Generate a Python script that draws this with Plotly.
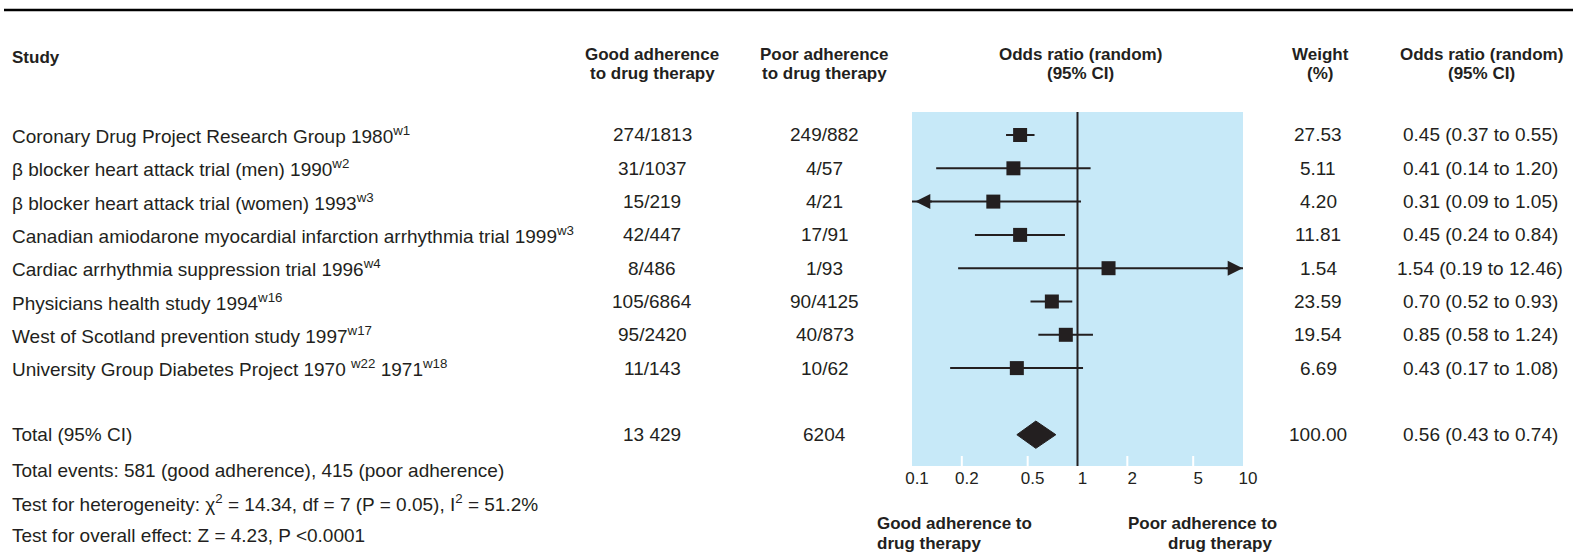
import math
import plotly.graph_objects as go

# ---------------- data ----------------
studies = [
    "Coronary Drug Project Research Group 1980<sup>w1</sup>",
    "β blocker heart attack trial (men) 1990<sup>w2</sup>",
    "β blocker heart attack trial (women) 1993<sup>w3</sup>",
    "Canadian amiodarone myocardial infarction arrhythmia trial 1999<sup>w3</sup>",
    "Cardiac arrhythmia suppression trial 1996<sup>w4</sup>",
    "Physicians health study 1994<sup>w16</sup>",
    "West of Scotland prevention study 1997<sup>w17</sup>",
    "University Group Diabetes Project 1970 <sup>w22</sup> 1971<sup>w18</sup>",
]
good_adherence = ["274/1813", "31/1037", "15/219", "42/447", "8/486", "105/6864", "95/2420", "11/143"]
poor_adherence = ["249/882", "4/57", "4/21", "17/91", "1/93", "90/4125", "40/873", "10/62"]
weights = [27.53, 5.11, 4.20, 11.81, 1.54, 23.59, 19.54, 6.69]
or_est = [0.45, 0.41, 0.31, 0.45, 1.54, 0.70, 0.85, 0.43]
or_low = [0.37, 0.14, 0.09, 0.24, 0.19, 0.52, 0.58, 0.17]
or_high = [0.55, 1.20, 1.05, 0.84, 12.46, 0.93, 1.24, 1.08]

total_label = "Total (95% CI)"
total_good = "13 429"
total_poor = "6204"
total_weight = 100.00
total_est, total_low, total_high = 0.56, 0.43, 0.74

footnotes = [
    "Total events: 581 (good adherence), 415 (poor adherence)",
    "Test for heterogeneity: χ<sup>2</sup> = 14.34, df = 7 (P = 0.05), I<sup>2</sup> = 51.2%",
    "Test for overall effect: Z = 4.23, P <0.0001",
]
tick_vals = [0.1, 0.2, 0.5, 1, 2, 5, 10]
tick_text = ["0.1", "0.2", "0.5", "1", "2", "5", "10"]
x_min, x_max = 0.1, 10

# ---------------- layout constants ----------------
W, H = 1577, 555
FONT = "Liberation Sans, Arial, Helvetica, sans-serif"
DARK = "#231f20"
PANEL = "#c7e9f8"
BODY = 19
HEAD = 17

PLOT_L, PLOT_R = 912, 1243
PLOT_T, PLOT_B = 112, 466
ROW0, STEP = 135, 33.3
TOTAL_ROW = len(studies) + 1


def px_to_row(py):
    return (py - ROW0) / STEP


Y_TOP = px_to_row(PLOT_T)
Y_BOT = px_to_row(PLOT_B)


def xp(px):
    return px / W


def yp(py):
    return 1 - py / H


fig = go.Figure()

# CI lines
for i, (lo, hi) in enumerate(zip(or_low, or_high)):
    fig.add_trace(go.Scatter(
        x=[max(lo, x_min), min(hi, x_max)], y=[i, i], mode="lines",
        line=dict(color=DARK, width=2), hoverinfo="skip", showlegend=False))

# null line
fig.add_trace(go.Scatter(x=[1, 1], y=[Y_BOT, Y_TOP], mode="lines",
                         line=dict(color=DARK, width=2), hoverinfo="skip", showlegend=False))

# white inner ticks
minor = [v for v in tick_vals if v not in (x_min, 1, x_max)]
tx, ty = [], []
for v in minor:
    tx += [v, v, None]
    ty += [Y_BOT, Y_BOT - 10 / STEP, None]
fig.add_trace(go.Scatter(x=tx, y=ty, mode="lines", line=dict(color="white", width=2),
                         hoverinfo="skip", showlegend=False))

# squares
fig.add_trace(go.Scatter(
    x=or_est, y=list(range(len(studies))), mode="markers",
    marker=dict(symbol="square", size=14, color=DARK, line=dict(width=0)),
    showlegend=False))

# diamond
h = 0.41
fig.add_trace(go.Scatter(
    x=[total_low, total_est, total_high, total_est, total_low],
    y=[TOTAL_ROW, TOTAL_ROW - h, TOTAL_ROW, TOTAL_ROW + h, TOTAL_ROW],
    mode="lines", fill="toself", fillcolor=DARK, line=dict(color=DARK, width=1),
    hoverinfo="skip", showlegend=False))

annotations = []

# arrowheads for truncated CIs
for i, (lo, hi) in enumerate(zip(or_low, or_high)):
    if lo < x_min:
        annotations.append(dict(x=math.log10(x_min) + 0.02, y=i, xref="x", yref="y", ax=18, ay=0,
                                text="", showarrow=True, arrowhead=2, arrowsize=1.5,
                                arrowwidth=2, arrowcolor=DARK))
    if hi > x_max:
        annotations.append(dict(x=math.log10(x_max) - 0.002, y=i, xref="x", yref="y", ax=-18, ay=0,
                                text="", showarrow=True, arrowhead=2, arrowsize=1.5,
                                arrowwidth=2, arrowcolor=DARK))


def ann(text, x, y, xanchor="center", size=BODY, yref="paper", bold=False):
    annotations.append(dict(
        text=("<b>%s</b>" % text) if bold else text,
        x=xp(x), y=y, xref="paper", yref=yref, xanchor=xanchor, yanchor="middle",
        showarrow=False, borderpad=0, borderwidth=0,
        font=dict(family=FONT, size=size, color=DARK)))


# headers
ann("Study", 12, yp(57), "left", HEAD, bold=True)
ann("Good adherence", 652, yp(55), size=HEAD, bold=True)
ann("to drug therapy", 652, yp(73), size=HEAD, bold=True)
ann("Poor adherence", 825, yp(55), size=HEAD, bold=True)
ann("to drug therapy", 825, yp(73), size=HEAD, bold=True)
ann("Odds ratio (random)", 1080, yp(55), size=HEAD, bold=True)
ann("(95% CI)", 1080, yp(73), size=HEAD, bold=True)
ann("Weight", 1320, yp(55), size=HEAD, bold=True)
ann("(%)", 1320, yp(73), size=HEAD, bold=True)
ann("Odds ratio (random)", 1481, yp(55), size=HEAD, bold=True)
ann("(95% CI)", 1481, yp(73), size=HEAD, bold=True)

# study rows
for i in range(len(studies)):
    ann(studies[i], 12, i, "left", yref="y")
    ann(good_adherence[i], 652, i, yref="y")
    ann(poor_adherence[i], 825, i, yref="y")
    ann("%.2f" % weights[i], 1318, i, yref="y")
    ann("%.2f (%.2f to %.2f)" % (or_est[i], or_low[i], or_high[i]), 1480, i, yref="y")

# total row
ann(total_label, 12, TOTAL_ROW, "left", yref="y")
ann(total_good, 652, TOTAL_ROW, yref="y")
ann(total_poor, 825, TOTAL_ROW, yref="y")
ann("%.2f" % total_weight, 1318, TOTAL_ROW, yref="y")
ann("%.2f (%.2f to %.2f)" % (total_est, total_low, total_high), 1480, TOTAL_ROW, yref="y")

# footnotes
for k, t in enumerate(footnotes):
    ann(t, 12, yp(470 + 32.5 * k), "left")

# favour labels
ann("Good adherence to", 877, yp(523), "left", HEAD, bold=True)
ann("drug therapy", 877, yp(543), "left", HEAD, bold=True)
ann("Poor adherence to", 1277, yp(523), "right", HEAD, bold=True)
ann("drug therapy", 1272, yp(543), "right", HEAD, bold=True)

fig.update_layout(
    width=W, height=H, autosize=False,
    margin=dict(l=0, r=0, t=0, b=0, pad=0, autoexpand=False),
    paper_bgcolor="white", plot_bgcolor=PANEL,
    showlegend=False,
    font=dict(family=FONT, size=BODY, color=DARK),
    xaxis=dict(type="log", range=[math.log10(x_min), math.log10(x_max)],
               domain=[xp(PLOT_L), xp(PLOT_R)], automargin=False,
               tickvals=tick_vals, ticktext=tick_text, ticks="",
               ticklabelshift=5,
               showgrid=False, zeroline=False, showline=False,
               tickfont=dict(family=FONT, size=17, color=DARK)),
    yaxis=dict(range=[Y_BOT, Y_TOP], domain=[yp(PLOT_B), yp(PLOT_T)], automargin=False,
               visible=False, showgrid=False, zeroline=False),
    shapes=[dict(type="line", xref="paper", yref="paper", x0=xp(4), x1=xp(1573),
                 y0=yp(10), y1=yp(10), line=dict(color="black", width=2.5))],
    annotations=annotations,
)

fig.write_html("out.html",
               config={"displayModeBar": False, "responsive": False},
               post_script="document.body.style.margin='0';document.body.style.overflow='hidden';")
